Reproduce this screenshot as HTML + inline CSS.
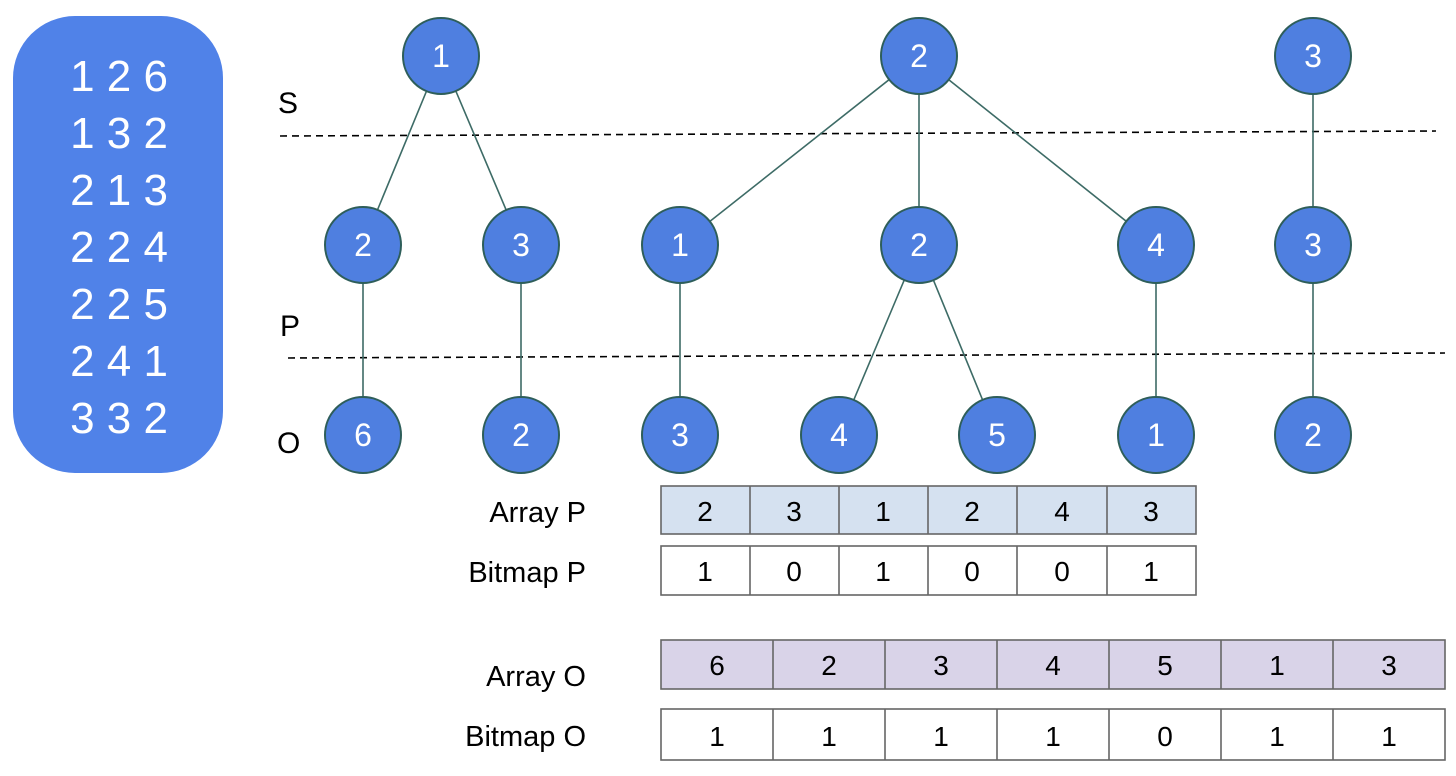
<!DOCTYPE html>
<html><head><style>body{margin:0;background:#fff}svg{display:block}</style></head><body>
<svg width="1456" height="776" xmlns="http://www.w3.org/2000/svg" font-family="Liberation Sans, sans-serif">
<rect x="13" y="16" width="210" height="457" rx="62" fill="#5082e8"/>
<g fill="#fff" font-size="44" text-anchor="middle">
<text x="119" y="91">1 2 6</text><text x="119" y="148">1 3 2</text><text x="119" y="205">2 1 3</text>
<text x="119" y="262">2 2 4</text><text x="119" y="319">2 2 5</text><text x="119" y="376">2 4 1</text><text x="119" y="433">3 3 2</text>
</g>
<g font-size="30" fill="#000"><text x="278" y="113">S</text><text x="280" y="336">P</text><text x="277" y="453">O</text></g>
<g stroke="#000" stroke-width="1.6" stroke-dasharray="7,5"><line x1="280" y1="136" x2="1436" y2="131"/><line x1="288" y1="358" x2="1445" y2="353"/></g>
<g stroke="#3d6b66" stroke-width="1.6">
<line x1="441" y1="56" x2="363" y2="245"/><line x1="441" y1="56" x2="521" y2="245"/>
<line x1="919" y1="56" x2="680" y2="245"/><line x1="919" y1="56" x2="919" y2="245"/><line x1="919" y1="56" x2="1156" y2="245"/>
<line x1="1313" y1="56" x2="1313" y2="245"/>
<line x1="363" y1="245" x2="363" y2="435"/><line x1="521" y1="245" x2="521" y2="435"/><line x1="680" y1="245" x2="680" y2="435"/>
<line x1="919" y1="245" x2="839" y2="435"/><line x1="919" y1="245" x2="997" y2="435"/>
<line x1="1156" y1="245" x2="1156" y2="435"/><line x1="1313" y1="245" x2="1313" y2="435"/>
</g>
<g fill="#4f7fe0" stroke="#2e5e5a" stroke-width="2">
<circle cx="441" cy="56" r="38"/><circle cx="919" cy="56" r="38"/><circle cx="1313" cy="56" r="38"/>
<circle cx="363" cy="245" r="38"/><circle cx="521" cy="245" r="38"/><circle cx="680" cy="245" r="38"/><circle cx="919" cy="245" r="38"/><circle cx="1156" cy="245" r="38"/><circle cx="1313" cy="245" r="38"/>
<circle cx="363" cy="435" r="38"/><circle cx="521" cy="435" r="38"/><circle cx="680" cy="435" r="38"/><circle cx="839" cy="435" r="38"/><circle cx="997" cy="435" r="38"/><circle cx="1156" cy="435" r="38"/><circle cx="1313" cy="435" r="38"/>
</g>
<g fill="#fff" font-size="32" text-anchor="middle">
<text x="441" y="67">1</text><text x="919" y="67">2</text><text x="1313" y="67">3</text>
<text x="363" y="256">2</text><text x="521" y="256">3</text><text x="680" y="256">1</text><text x="919" y="256">2</text><text x="1156" y="256">4</text><text x="1313" y="256">3</text>
<text x="363" y="446">6</text><text x="521" y="446">2</text><text x="680" y="446">3</text><text x="839" y="446">4</text><text x="997" y="446">5</text><text x="1156" y="446">1</text><text x="1313" y="446">2</text>
</g>
<g font-size="29" text-anchor="end" fill="#000">
<text x="586" y="522">Array P</text><text x="586" y="582">Bitmap P</text><text x="586" y="686">Array O</text><text x="586" y="746">Bitmap O</text>
</g>
<g stroke="#666" stroke-width="1.6">
<rect x="661" y="486" width="535" height="48" fill="#d5e1f0"/>
<rect x="661" y="546" width="535" height="49" fill="#fff"/>
<rect x="661" y="640" width="784" height="49" fill="#d9d3e8"/>
<rect x="661" y="709" width="784" height="51" fill="#fff"/>
<line x1="750" y1="486" x2="750" y2="534"/><line x1="839" y1="486" x2="839" y2="534"/><line x1="928" y1="486" x2="928" y2="534"/><line x1="1017" y1="486" x2="1017" y2="534"/><line x1="1107" y1="486" x2="1107" y2="534"/>
<line x1="750" y1="546" x2="750" y2="595"/><line x1="839" y1="546" x2="839" y2="595"/><line x1="928" y1="546" x2="928" y2="595"/><line x1="1017" y1="546" x2="1017" y2="595"/><line x1="1107" y1="546" x2="1107" y2="595"/>
<line x1="773" y1="640" x2="773" y2="689"/><line x1="885" y1="640" x2="885" y2="689"/><line x1="997" y1="640" x2="997" y2="689"/><line x1="1109" y1="640" x2="1109" y2="689"/><line x1="1221" y1="640" x2="1221" y2="689"/><line x1="1333" y1="640" x2="1333" y2="689"/>
<line x1="773" y1="709" x2="773" y2="760"/><line x1="885" y1="709" x2="885" y2="760"/><line x1="997" y1="709" x2="997" y2="760"/><line x1="1109" y1="709" x2="1109" y2="760"/><line x1="1221" y1="709" x2="1221" y2="760"/><line x1="1333" y1="709" x2="1333" y2="760"/>
</g>
<g font-size="28" text-anchor="middle" fill="#000">
<text x="705" y="521">2</text><text x="794" y="521">3</text><text x="883" y="521">1</text><text x="972" y="521">2</text><text x="1062" y="521">4</text><text x="1151" y="521">3</text>
<text x="705" y="581">1</text><text x="794" y="581">0</text><text x="883" y="581">1</text><text x="972" y="581">0</text><text x="1062" y="581">0</text><text x="1151" y="581">1</text>
<text x="717" y="675">6</text><text x="829" y="675">2</text><text x="941" y="675">3</text><text x="1053" y="675">4</text><text x="1165" y="675">5</text><text x="1277" y="675">1</text><text x="1389" y="675">3</text>
<text x="717" y="746">1</text><text x="829" y="746">1</text><text x="941" y="746">1</text><text x="1053" y="746">1</text><text x="1165" y="746">0</text><text x="1277" y="746">1</text><text x="1389" y="746">1</text>
</g>
</svg>
</body></html>
